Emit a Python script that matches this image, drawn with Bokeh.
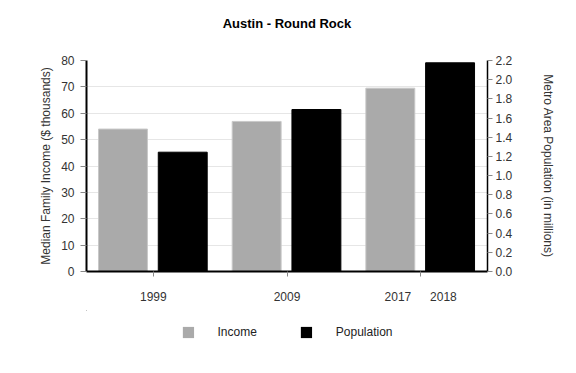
from bokeh.plotting import figure
from bokeh.layouts import column
from bokeh.models import (Range1d, LinearAxis, FixedTicker, Legend, LegendItem, Title,
                          ColumnDataSource, NumeralTickFormatter)
from bokeh.embed import file_html
from bokeh.resources import INLINE

# ---- data ----
groups = [["1999"], ["2009"], ["2017", "2018"]]
income_years = ["1999", "2009", "2017"]
income_values = [54.0, 56.9, 69.5]          # $ thousands
pop_years = ["1999", "2009", "2018"]
pop_values = [1.244, 1.689, 2.176]          # millions
left_ticks = [0, 10, 20, 30, 40, 50, 60, 70, 80]
right_ticks = [0.0, 0.2, 0.4, 0.6, 0.8, 1.0, 1.2, 1.4, 1.6, 1.8, 2.0, 2.2]
series_names = ["Income", "Population"]

FONT = "Liberation Sans"
GRAY = "#aaaaaa"
COLORS = [GRAY, "black"]
LINES = ["#c8c8c8", "black"]

def group_index(year):
    for i, g in enumerate(groups):
        if year in g:
            return i
    return None

inc_x = [group_index(y) + 0.273 for y in income_years]
pop_x = [group_index(y) + 0.72 for y in pop_years]

# label positions
label_pos = {}
for i, g in enumerate(groups):
    if len(g) == 1:
        label_pos[i + 0.5] = g[0]
    else:
        label_pos[i + 0.33] = g[0]
        label_pos[i + 0.67] = g[1]

p = figure(width=576, height=310, output_backend="svg", toolbar_location=None,
           x_range=Range1d(0, len(groups)), y_range=Range1d(0, 80),
           min_border_left=86, min_border_right=89, min_border_top=60, min_border_bottom=39,
           x_axis_type=None)
p.extra_y_ranges = {"pop": Range1d(0, 2.2)}
p.outline_line_color = None
p.background_fill_color = "white"
p.border_fill_color = "white"

# spacer between frame and title
spacer = Title(text=" ", text_font_size="10px", standoff=5)
p.add_layout(spacer, "above")

p.title.text = "Austin - Round Rock"
p.title.align = "center"
p.title.text_font = FONT
p.title.text_font_size = "13px"
p.title.text_font_style = "bold"
p.title.text_color = "#000000"
p.title.standoff = 24

inc_src = ColumnDataSource(dict(x=inc_x, top=income_values, year=income_years))
pop_src = ColumnDataSource(dict(x=pop_x, top=pop_values, year=pop_years))
p.vbar(x="x", top="top", width=0.366, source=inc_src, fill_color=COLORS[0],
       line_color=LINES[0], line_width=1)
p.vbar(x="x", top="top", width=0.366, source=pop_src, fill_color=COLORS[1],
       line_color=LINES[1], line_width=1, y_range_name="pop")

# left axis
ya = p.yaxis[0]
ya.ticker = FixedTicker(ticks=left_ticks)
ya.axis_label = "Median Family Income ($ thousands)"
ya.axis_label_text_font = FONT
ya.axis_label_text_font_size = "12px"
ya.axis_label_text_font_style = "normal"
ya.axis_label_text_color = "#333333"
ya.major_label_text_font = FONT
ya.major_label_text_font_size = "12px"
ya.major_label_text_color = "#333333"
ya.axis_line_color = "black"
ya.axis_line_width = 2
ya.major_tick_line_color = "#888888"
ya.major_tick_in = 0
ya.major_tick_out = 6
ya.minor_tick_line_color = None
ya.major_label_standoff = 6

# right axis
ra = LinearAxis(y_range_name="pop", ticker=FixedTicker(ticks=right_ticks),
                formatter=NumeralTickFormatter(format="0.0"))
ra.axis_label = "Metro Area Population (in millions)"
ra.axis_label_text_font = FONT
ra.axis_label_text_font_size = "12px"
ra.axis_label_text_font_style = "normal"
ra.axis_label_text_color = "#333333"
ra.major_label_text_font = FONT
ra.major_label_text_font_size = "12px"
ra.major_label_text_color = "#333333"
ra.axis_line_color = "black"
ra.axis_line_width = 1.5
ra.major_tick_line_color = "#888888"
ra.major_tick_in = 0
ra.major_tick_out = 5
ra.minor_tick_line_color = None
ra.major_label_standoff = 3
ra.axis_label_standoff = 26
p.add_layout(ra, "right")

# bottom axis: ticks only
tick_axis = LinearAxis(ticker=FixedTicker(ticks=[i + 0.5 for i in range(len(groups))]))
tick_axis.major_label_overrides = {i + 0.5: "" for i in range(len(groups))}
tick_axis.major_label_text_font_size = "1px"
tick_axis.major_label_standoff = 0
tick_axis.axis_line_color = "black"
tick_axis.axis_line_width = 2
tick_axis.major_tick_line_color = "#888888"
tick_axis.major_tick_in = 0
tick_axis.major_tick_out = 5
tick_axis.minor_tick_line_color = None
p.add_layout(tick_axis, "below")

# bottom axis: labels
lab_axis = LinearAxis(ticker=FixedTicker(ticks=list(label_pos.keys())))
lab_axis.major_label_overrides = label_pos
lab_axis.major_label_text_font = FONT
lab_axis.major_label_text_font_size = "12px"
lab_axis.major_label_text_color = "#333333"
lab_axis.major_label_standoff = 9
lab_axis.axis_line_color = None
lab_axis.major_tick_line_color = None
lab_axis.minor_tick_line_color = None
p.add_layout(lab_axis, "below")

# grids
p.ygrid.ticker = FixedTicker(ticks=left_ticks)
p.ygrid.grid_line_color = "#e6e6e6"
p.xgrid.ticker = FixedTicker(ticks=[i + 0.5 for i in range(len(groups))])
p.xgrid.grid_line_color = "#e0e0e0"
p.xgrid.grid_line_width = 1.5

# legend strip: same data, ranges chosen so the bars are fully out of view; only the key shows
lg = figure(width=576, height=63, output_backend="svg", toolbar_location=None,
            x_axis_type=None, y_axis_type=None, min_border=0,
            x_range=Range1d(10, 11), y_range=Range1d(-2, -1))
lg.outline_line_color = None
lg.xgrid.visible = False
lg.ygrid.visible = False
items = []
for name, src, fc in zip(series_names, [inc_src, pop_src], COLORS):
    r = lg.vbar(x="x", top="top", width=0.366, source=src, fill_color=fc, line_color=None)
    items.append(LegendItem(label=name, renderers=[r]))
legend = Legend(items=items, orientation="horizontal", location="top_center")
legend.label_text_font = FONT
legend.label_text_font_size = "12px"
legend.label_text_color = "#222222"
legend.glyph_width = 14
legend.glyph_height = 14
legend.label_standoff = 23
legend.spacing = 42
legend.border_line_color = None
legend.background_fill_alpha = 0
legend.margin = 15
legend.padding = 4
lg.add_layout(legend, "center")

layout = column(p, lg, spacing=0)
open("out.html", "w").write(file_html(layout, INLINE))
